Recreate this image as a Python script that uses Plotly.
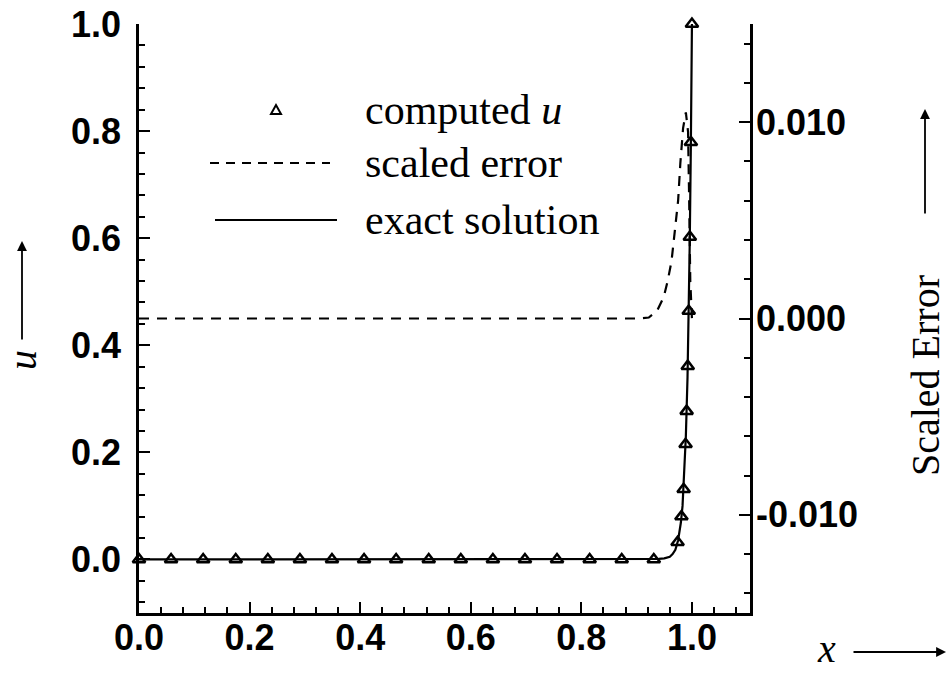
import plotly.graph_objects as go

# ---------------- data ----------------
x_computed = [0.000, 0.058, 0.116, 0.175, 0.233, 0.291, 0.349, 0.407, 0.465, 0.524,
              0.582, 0.640, 0.698, 0.756, 0.815, 0.873, 0.931,
              0.974, 0.981, 0.985, 0.9885, 0.9904, 0.9924, 0.9942, 0.9962, 0.9981, 1.000]
u_computed = [0.0, 0.0, 0.0, 0.0, 0.0, 0.0, 0.0, 0.0, 0.0, 0.0,
              0.0, 0.0, 0.0, 0.0, 0.0, 0.0, 0.0,
              0.032, 0.080, 0.131, 0.215, 0.277, 0.361, 0.464, 0.602, 0.779, 1.000]

x_exact = [0.000, 0.930, 0.940, 0.950, 0.955, 0.960, 0.965, 0.970, 0.975, 0.980,
           0.983, 0.986, 0.989, 0.992, 0.994, 0.996, 0.998, 1.000]
u_exact = [0.000, 0.000, 0.001, 0.002, 0.003, 0.005, 0.010, 0.018, 0.036, 0.069,
           0.100, 0.155, 0.230, 0.340, 0.450, 0.590, 0.770, 1.000]

x_error = [0.000, 0.905, 0.922, 0.937, 0.949, 0.956, 0.963, 0.967, 0.972, 0.975,
           0.979, 0.984, 0.989, 0.993, 0.995, 0.997, 1.000]
scaled_error = [0.0, 0.0, 0.00005, 0.0004, 0.0011, 0.0019, 0.0029, 0.0040, 0.0053, 0.0060,
                0.0079, 0.0097, 0.0105, 0.0095, 0.0060, 0.0019, 0.0]

x_tickvals = [0.0, 0.2, 0.4, 0.6, 0.8, 1.0]
x_ticktext = ["0.0", "0.2", "0.4", "0.6", "0.8", "1.0"]
u_tickvals = [0.0, 0.2, 0.4, 0.6, 0.8, 1.0]
u_ticktext = ["0.0", "0.2", "0.4", "0.6", "0.8", "1.0"]
err_tickvals = [-0.010, 0.000, 0.010]
err_ticktext = ["-0.010", "0.000", "0.010"]

legend_labels = ["computed <i>u</i>", "scaled error", "exact solution"]

# ---------------- layout geometry ----------------
W, H = 949, 679
L, R, T, B = 139, 199, 24, 66
PW, PH = W - L - R, H - T - B


def px_x(p):
    return (p - L) / PW


def px_y(p):
    return (H - B - p) / PH


SANS = "Liberation Sans, Arial, Helvetica, sans-serif"
SERIF = "Liberation Serif, Times New Roman, serif"
tickfont = dict(family=SANS, size=36, color="black", weight="bold")

fig = go.Figure()

fig.add_trace(go.Scatter(
    x=x_error, y=scaled_error, mode="lines", yaxis="y2",
    line=dict(color="black", width=2.2, dash="10px,8px"),
    showlegend=False, hoverinfo="skip"))

fig.add_trace(go.Scatter(
    x=x_exact, y=u_exact, mode="lines",
    line=dict(color="black", width=2.2),
    showlegend=False, hoverinfo="skip"))

fig.add_trace(go.Scatter(
    x=x_computed, y=u_computed, mode="markers", cliponaxis=False,
    marker=dict(symbol="triangle-up-open", size=11, color="black",
                line=dict(width=2.5, color="black")),
    showlegend=False, hoverinfo="skip"))

axis_common = dict(
    showline=True, linecolor="black", linewidth=2.6,
    ticks="inside", tickcolor="black", tickwidth=2, ticklen=11,
    showgrid=False, zeroline=False, tickfont=tickfont,
)

fig.update_layout(
    width=W, height=H,
    margin=dict(l=L, r=R, t=T, b=B, autoexpand=False),
    paper_bgcolor="white", plot_bgcolor="white",
    showlegend=False,
    xaxis=dict(range=[0, 1.105], tickmode="array", tickvals=x_tickvals, ticktext=x_ticktext,
               minor=dict(tickmode="linear", tick0=0, dtick=0.04, ticks="inside",
                          ticklen=6, tickwidth=1.6, tickcolor="black"),
               ticklabelstandoff=-9, **axis_common),
    yaxis=dict(range=[-0.1, 1.0], tickmode="array", tickvals=u_tickvals, ticktext=u_ticktext,
               minor=dict(tickmode="linear", tick0=0, dtick=0.04, ticks="inside",
                          ticklen=6, tickwidth=1.6, tickcolor="black"),
               ticklabelstandoff=8, **axis_common),
    yaxis2=dict(range=[-0.015, 0.015], overlaying="y", side="right", anchor="x",
                tickmode="array", tickvals=err_tickvals, ticktext=err_ticktext,
                minor=dict(tickmode="linear", tick0=0, dtick=0.002, ticks="inside",
                           ticklen=6, tickwidth=1.6, tickcolor="black"),
                ticklabelstandoff=-4, **axis_common),
)

annotations = []
shapes = []

# axis titles with arrows
annotations.append(dict(text="<i>u</i>", x=px_x(22), y=px_y(360), xref="paper", yref="paper",
                        textangle=-90, showarrow=False, xanchor="center", yanchor="middle",
                        font=dict(family=SERIF, size=40, color="black")))
annotations.append(dict(text="", x=px_x(22), y=px_y(241), xref="paper", yref="paper",
                        showarrow=True, ax=0, ay=100, arrowhead=2, arrowsize=1.1,
                        arrowwidth=1.8, arrowcolor="black"))
annotations.append(dict(text="Scaled Error", x=px_x(925), y=px_y(376), xref="paper", yref="paper",
                        textangle=-90, showarrow=False, xanchor="center", yanchor="middle",
                        font=dict(family=SERIF, size=40, color="black")))
annotations.append(dict(text="", x=px_x(925), y=px_y(109), xref="paper", yref="paper",
                        showarrow=True, ax=0, ay=106, arrowhead=2, arrowsize=1.1,
                        arrowwidth=1.8, arrowcolor="black"))
annotations.append(dict(text="<i>x</i>", x=px_x(826), y=px_y(648), xref="paper", yref="paper",
                        showarrow=False, xanchor="center", yanchor="middle",
                        font=dict(family=SERIF, size=40, color="black")))
annotations.append(dict(text="", x=px_x(946), y=px_y(652), xref="paper", yref="paper",
                        showarrow=True, ax=-94, ay=0, arrowhead=2, arrowsize=1.1,
                        arrowwidth=1.8, arrowcolor="black"))

# manual legend
legend_rows_y = [110, 163, 220]
for label, ry in zip(legend_labels, legend_rows_y):
    annotations.append(dict(text=label, x=px_x(363), y=px_y(ry), xref="paper", yref="paper",
                            showarrow=False, xanchor="left", yanchor="middle",
                            font=dict(family=SERIF, size=42, color="black")))

tx, ty = 276, legend_rows_y[0]
tri = "M {:.5f},{:.5f} L {:.5f},{:.5f} L {:.5f},{:.5f} Z".format(
    px_x(tx - 5), px_y(ty + 4), px_x(tx + 5), px_y(ty + 4), px_x(tx), px_y(ty - 5))
shapes.append(dict(type="path", path=tri, xref="paper", yref="paper",
                   line=dict(color="black", width=2)))
shapes.append(dict(type="line", xref="paper", yref="paper",
                   x0=px_x(210), x1=px_x(330), y0=px_y(legend_rows_y[1]), y1=px_y(legend_rows_y[1]),
                   line=dict(color="black", width=2, dash="9px,7px")))
shapes.append(dict(type="line", xref="paper", yref="paper",
                   x0=px_x(215), x1=px_x(337), y0=px_y(legend_rows_y[2]), y1=px_y(legend_rows_y[2]),
                   line=dict(color="black", width=2)))

fig.update_layout(annotations=annotations, shapes=shapes)

fig.write_html("out.html")
